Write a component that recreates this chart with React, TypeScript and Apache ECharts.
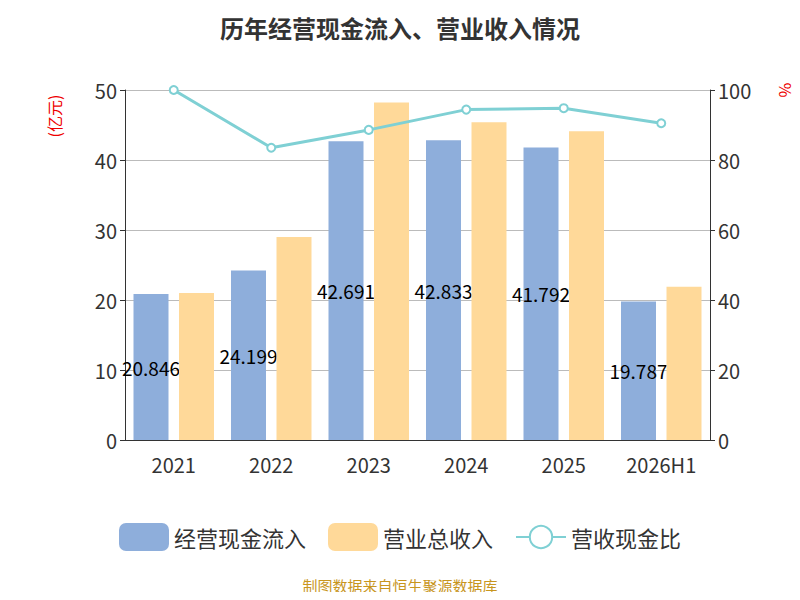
import React, { useEffect, useRef } from 'react'
import * as echarts from 'echarts'

const categories = ['2021', '2022', '2023', '2024', '2025', '2026H1']
const cashInflow = [20.846, 24.199, 42.691, 42.833, 41.792, 19.787]
const revenue = [21.0, 29.0, 48.2, 45.4, 44.1, 21.9]
const ratio = [100, 83.5, 88.6, 94.4, 94.8, 90.5]

export default function App() {
  const chartRef = useRef<HTMLDivElement>(null)

  useEffect(() => {
    if (!chartRef.current) return
    const chart = echarts.init(chartRef.current, null, { renderer: 'svg' })
    const font = '"Noto Sans CJK SC", "Noto Sans", sans-serif'
    chart.setOption({
      animation: false,
      textStyle: { fontFamily: font },
      title: {
        text: '历年经营现金流入、营业收入情况',
        left: 'center',
        top: 2,
        textStyle: { fontSize: 24, fontWeight: 'bold', color: '#333' }
      },
      graphic: [
        {
          type: 'text',
          left: 'center',
          top: 570,
          style: { text: '制图数据来自恒生聚源数据库', fill: '#c8961e', fontSize: 15, fontFamily: font }
        },
        {
          type: 'text', x: 46, y: 108, rotation: Math.PI / 2,
          style: { text: '(亿元)', fill: '#e00', fontSize: 16, fontFamily: font, align: 'center', verticalAlign: 'middle' }
        },
        {
          type: 'text', x: 778, y: 82, rotation: -Math.PI / 2,
          style: { text: '%', fill: '#e00', fontSize: 16, fontFamily: font, align: 'center', verticalAlign: 'middle' }
        }
      ],
      legend: {
        top: 510,
        itemWidth: 50,
        itemHeight: 28,
        itemGap: 22,
        textStyle: { fontSize: 22, color: '#333' },
        data: [
          { name: '经营现金流入', icon: 'roundRect' },
          { name: '营业总收入', icon: 'roundRect' },
          { name: '营收现金比' }
        ]
      },
      grid: { left: 117, right: 82, top: 82, bottom: 152 },
      xAxis: {
        type: 'category',
        data: categories,
        axisLine: { lineStyle: { color: '#333' } },
        axisLabel: { fontSize: 20, color: '#333', margin: 14 }
      },
      yAxis: [
        {
          type: 'value', min: 0, max: 50, interval: 10,
          axisLine: { show: true, lineStyle: { color: '#333' } },
          axisTick: { show: true },
          axisLabel: { fontSize: 20, color: '#333' },
          splitLine: { lineStyle: { color: '#bbb' } }
        },
        {
          type: 'value', min: 0, max: 100, interval: 20,
          axisLine: { show: true, lineStyle: { color: '#333' } },
          axisTick: { show: true },
          axisLabel: { fontSize: 20, color: '#333' },
          splitLine: { show: false }
        }
      ],
      series: [
        {
          name: '经营现金流入', type: 'bar', data: cashInflow, barWidth: 35, barGap: '30%',
          itemStyle: { color: '#8eaedb' },
          label: { show: true, position: 'inside', fontSize: 19, color: '#000' }
        },
        {
          name: '营业总收入', type: 'bar', data: revenue, barWidth: 35,
          itemStyle: { color: '#ffd999' }, z: 3
        },
        {
          name: '营收现金比', type: 'line', yAxisIndex: 1, data: ratio,
          symbol: 'circle', symbolSize: 8,
          itemStyle: { color: '#fff', borderColor: '#7fd0d4', borderWidth: 2 },
          lineStyle: { color: '#7fd0d4', width: 3 }
        }
      ]
    })
    return () => chart.dispose()
  }, [])

  return <div ref={chartRef} style={{ width: 784, height: 584 }} />
}
